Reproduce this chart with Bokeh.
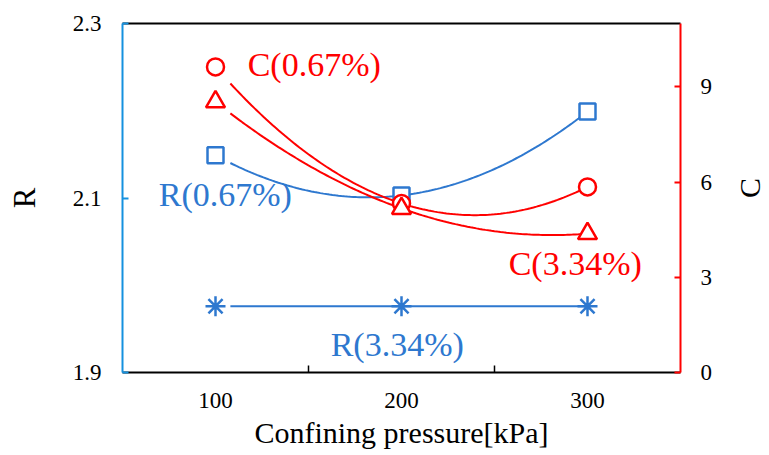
import math
import numpy as np
from bokeh.plotting import figure
from bokeh.models import (Range1d, LinearAxis, FixedTicker, Label)
from bokeh.embed import file_html
from bokeh.resources import INLINE

# ---- data ----
pressure = [100, 200, 300]
R_067 = [2.149, 2.103, 2.199]
R_334 = [1.976, 1.976, 1.976]
C_067 = [9.63, 5.33, 5.85]
C_334 = [8.53, 5.17, 4.38]

x_ticks = [100, 200, 300]
x_minor = [150, 250]
r_ticks = [1.9, 2.1, 2.3]
c_ticks = [0, 3, 6, 9]

BLUE = "#2E78CF"
AXBLUE = "#1591DF"
RED = "#FF0000"
FONT = "Liberation Serif"

p = figure(width=769, height=455, output_backend="svg", toolbar_location=None,
           x_range=Range1d(50, 350), y_range=Range1d(1.9, 2.3),
           frame_width=558, frame_height=349,
           min_border_left=122, min_border_right=89, min_border_top=23, min_border_bottom=83)
p.extra_y_ranges = {"c": Range1d(0, 11)}
p.grid.visible = False
p.outline_line_color = None
p.background_fill_color = "white"
p.border_fill_color = "white"

# x axis
xa = p.xaxis[0]
xa.ticker = FixedTicker(ticks=x_ticks, minor_ticks=x_minor)
xa.major_tick_in = 0
xa.major_tick_out = 0
xa.minor_tick_in = 7
xa.minor_tick_out = 0
xa.minor_tick_line_color = "black"
xa.minor_tick_line_width = 1.5
xa.axis_line_color = "black"
xa.axis_line_width = 2
xa.major_label_text_font = FONT
xa.major_label_text_font_size = "23px"
xa.major_label_text_color = "black"
xa.major_label_standoff = 20
xa.axis_label = "Confining pressure[kPa]"
xa.axis_label_text_font = FONT
xa.axis_label_text_font_size = "30px"
xa.axis_label_text_font_style = "normal"
xa.axis_label_text_color = "black"
xa.axis_label_standoff = 5

# left axis
ya = p.yaxis[0]
ya.ticker = FixedTicker(ticks=r_ticks)
ya.minor_tick_line_color = None
ya.major_tick_in = 6
ya.major_tick_out = 0
ya.major_tick_line_color = AXBLUE
ya.major_tick_line_width = 2
ya.axis_line_color = AXBLUE
ya.axis_line_width = 2
ya.major_label_text_font = FONT
ya.major_label_text_font_size = "23px"
ya.major_label_text_color = "black"
ya.major_label_standoff = 21
ya.axis_label = "R"
ya.axis_label_text_font = FONT
ya.axis_label_text_font_size = "31px"
ya.axis_label_text_font_style = "normal"
ya.axis_label_text_color = "black"
ya.axis_label_standoff = 28

# right axis
ra = LinearAxis(y_range_name="c", ticker=FixedTicker(ticks=c_ticks))
ra.minor_tick_line_color = None
ra.major_tick_in = 6
ra.major_tick_out = 0
ra.major_tick_line_color = RED
ra.major_tick_line_width = 2
ra.axis_line_color = RED
ra.axis_line_width = 2
ra.major_label_text_font = FONT
ra.major_label_text_font_size = "23px"
ra.major_label_text_color = "black"
ra.major_label_standoff = 20
ra.axis_label = "C"
ra.axis_label_text_font = FONT
ra.axis_label_text_font_size = "30px"
ra.axis_label_text_font_style = "normal"
ra.axis_label_text_color = "black"
ra.axis_label_standoff = 34
ra.axis_label_orientation = math.pi / 2
p.add_layout(ra, "right")

# top border
ta = LinearAxis(ticker=FixedTicker(ticks=[]))
ta.major_tick_in = 0
ta.major_tick_out = 0
ta.minor_tick_line_color = None
ta.major_label_text_font_size = "0px"
ta.axis_line_color = "black"
ta.axis_line_width = 2
p.add_layout(ta, "above")

# trend curves (quadratic fit through the measured points)
def trend(xs, ys, start=108):
    coef = np.polyfit(xs, ys, 2)
    xx = np.linspace(start, xs[-1], 120)
    return xx, np.polyval(coef, xx)

xx, yy = trend(pressure, R_067)
p.line(xx, yy, line_color=BLUE, line_width=2)
xx, yy = trend(pressure, R_334)
p.line(xx, yy, line_color=BLUE, line_width=2)

p.scatter(pressure, R_067, marker="square", size=16, line_color=BLUE, line_width=2.5, fill_color="white")
p.scatter(pressure, R_334, marker="asterisk", size=20, line_color=BLUE, line_width=2.5)

xx, yy = trend(pressure, C_067)
p.line(xx, yy, line_color=RED, line_width=2, y_range_name="c")
xx, yy = trend(pressure, C_334)
p.line(xx, yy, line_color=RED, line_width=2, y_range_name="c")

p.scatter(pressure, C_067, marker="circle", size=17, line_color=RED, line_width=2.5, fill_color="white", y_range_name="c")
p.scatter(pressure, C_334, marker="triangle", size=19, line_color=RED, line_width=2.5, fill_color="white", y_range_name="c")

# series labels
def lab(text, x, y, color, rng="default"):
    p.add_layout(Label(x=x, y=y, text=text, text_color=color, text_font=FONT,
                       text_font_size="34px", text_baseline="alphabetic", text_align="left",
                       y_range_name=rng))

lab("C(0.67%)", 117.3, 9.70, RED, "c")
lab("R(0.67%)", 69.5, 2.104, BLUE)
lab("C(3.34%)", 257.6, 3.45, RED, "c")
lab("R(3.34%)", 161.9, 1.932, BLUE)

open("out.html", "w").write(file_html(p, INLINE))
